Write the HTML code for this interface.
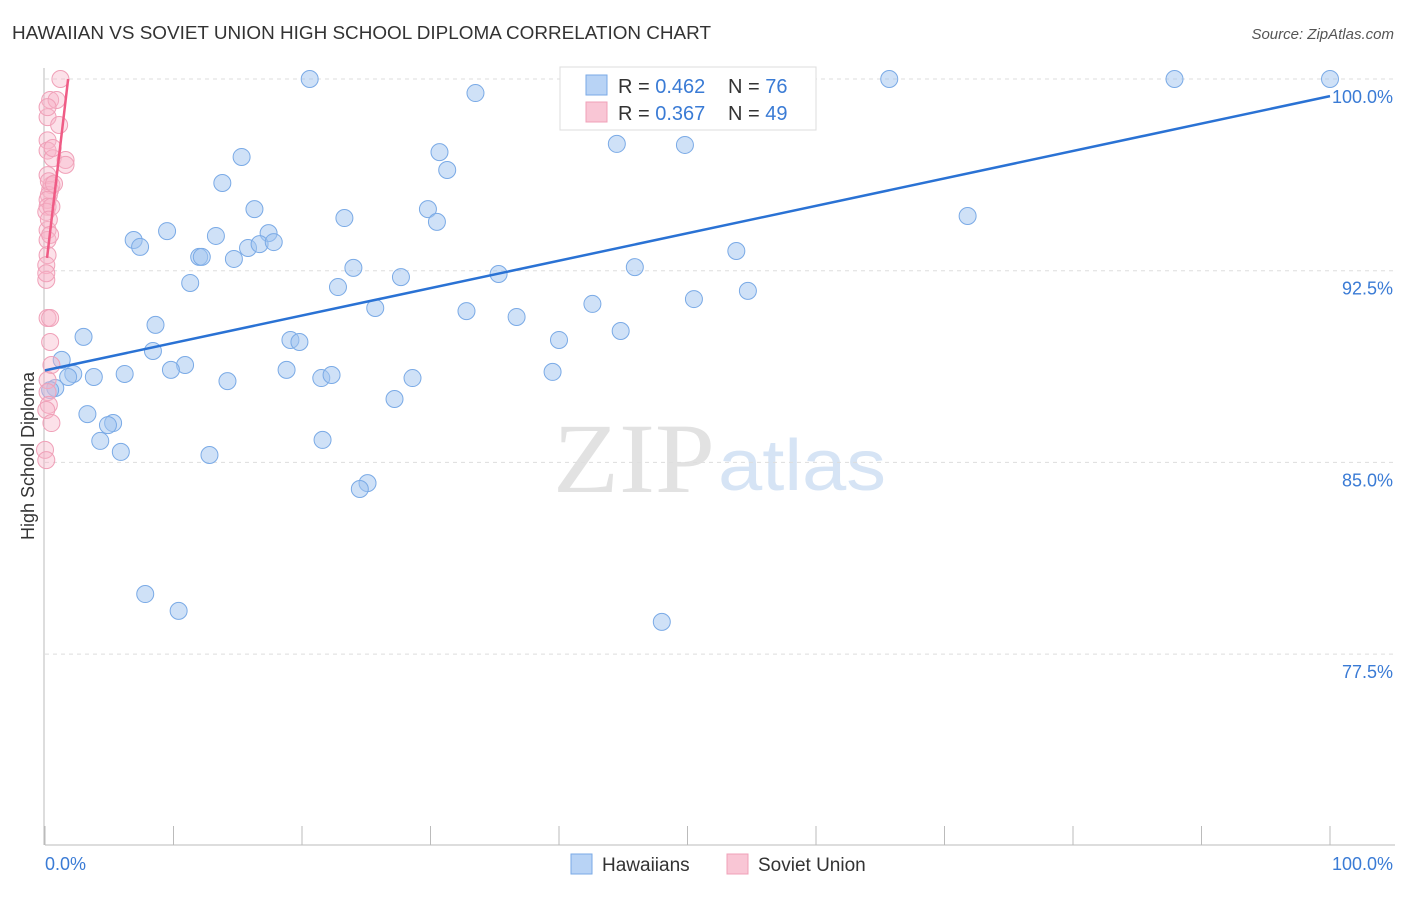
<!DOCTYPE html>
<html><head><meta charset="utf-8"><style>
body{margin:0;background:#fff;font-family:"Liberation Sans",sans-serif;}
svg text{font-family:"Liberation Sans",sans-serif;}
</style></head><body>
<svg id="chart" width="1406" height="892" xmlns="http://www.w3.org/2000/svg">
<text x="12" y="39" font-size="18" fill="#333" textLength="699" lengthAdjust="spacingAndGlyphs">HAWAIIAN VS SOVIET UNION HIGH SCHOOL DIPLOMA CORRELATION CHART</text>
<text x="1394" y="39" font-size="15" fill="#555" text-anchor="end" font-style="italic">Source: ZipAtlas.com</text>
<g>
<text x="553" y="492" font-size="100" fill="#e2e2e2" style="font-family:'Liberation Serif',serif" textLength="162" lengthAdjust="spacingAndGlyphs">ZIP</text>
<text x="718" y="490" font-size="72" fill="#d6e4f5" textLength="168" lengthAdjust="spacingAndGlyphs">atlas</text>
</g>
<g id="grid"></g>
<g id="axes"></g>
<g id="pts"></g>
<g id="lines"></g>
<text transform="translate(34,456) rotate(-90)" font-size="18" fill="#333" text-anchor="middle">High School Diploma</text>
<g>
<rect x="560" y="67" width="256" height="63" fill="#fff" stroke="#ddd"/>
<rect x="586" y="75" width="21" height="20" fill="#b8d3f5" stroke="#7aaae6"/>
<rect x="586" y="102" width="21" height="20" fill="#f9c6d5" stroke="#f0a0b8"/>
<text x="618" y="93" font-size="20" fill="#333">R = <tspan fill="#3a7bd5">0.462</tspan></text>
<text x="728" y="93" font-size="20" fill="#333">N = <tspan fill="#3a7bd5">76</tspan></text>
<text x="618" y="120" font-size="20" fill="#333">R = <tspan fill="#3a7bd5">0.367</tspan></text>
<text x="728" y="120" font-size="20" fill="#333">N = <tspan fill="#3a7bd5">49</tspan></text>
</g>
<g>
<rect x="571" y="854" width="21" height="20" fill="#b8d3f5" stroke="#7aaae6"/>
<text x="602" y="871" font-size="19" fill="#333">Hawaiians</text>
<rect x="727" y="854" width="21" height="20" fill="#f9c6d5" stroke="#f0a0b8"/>
<text x="758" y="871" font-size="19" fill="#333">Soviet Union</text>
</g>
</svg>
<script>
const yTicks=[100,92.5,85,77.5];
const yTickLabels=["100.0%","92.5%","85.0%","77.5%"];
const xLabels=["0.0%","100.0%"];
const blueX=[20.6,33.5,65.7,87.9,100,44.5,49.8,15.3,30.7,31.3,13.8,16.3,29.8,30.5,23.3,71.8,9.5,6.9,7.4,13.3,17.4,15.8,16.7,17.8,12.0,12.2,14.7,24.0,35.3,45.9,53.8,11.3,22.8,27.7,42.6,50.5,54.7,25.7,32.8,36.7,8.6,44.8,3.0,40.0,19.1,19.8,8.4,1.3,10.9,9.8,18.8,6.2,3.8,2.2,1.8,14.2,21.5,22.3,28.6,39.5,0.8,0.4,27.2,3.3,5.3,4.9,4.3,21.6,5.9,12.8,25.1,24.5,7.8,10.4,48.0,48.5];
const blueY=[100,99.45,100,100,100,97.46,97.42,96.95,97.14,96.44,95.93,94.91,94.91,94.41,94.56,94.64,94.05,93.7,93.43,93.86,93.97,93.39,93.54,93.62,93.04,93.04,92.96,92.61,92.37,92.64,93.27,92.02,91.86,92.25,91.2,91.39,91.71,91.04,90.92,90.69,90.38,90.14,89.91,89.79,89.79,89.71,89.36,89.01,88.81,88.62,88.62,88.46,88.34,88.46,88.34,88.18,88.3,88.42,88.3,88.54,87.91,87.83,87.48,86.89,86.54,86.46,85.84,85.88,85.41,85.29,84.19,83.96,79.85,79.19,78.76,99.9];
const pinkX=[1.2,0.4,0.9,0.2,1.1,0.2,0.2,0.6,1.6,1.6,0.2,0.5,0.4,0.3,0.2,0.2,0.1,0.2,0.2,0.2,0.1,0.1,0.2,0.4,0.4,0.5,0.2,0.2,0.3,0.1,0.5,0.0,0.1,0.3,0.5,0.3,0.6,0.2,0.7,0.4,0.1];
const pinkY=[100,99.18,99.18,98.51,98.2,97.6,97.2,96.9,96.83,96.64,96.24,95.85,95.66,95.46,95.27,95.0,94.8,94.09,93.7,93.11,92.72,92.14,90.65,90.65,89.71,88.81,88.22,87.75,87.25,87.05,86.54,85.49,85.09,96.0,95.0,94.5,97.3,98.9,95.9,93.9,92.4];
const blueTrend=[[0,88.6],[100,99.33]];
const pinkTrend=[[0.16,93.0],[1.8,100]];
const NS="http://www.w3.org/2000/svg";
const X=v=>45+v*12.85, Y=v=>79+(100-v)*25.56;
function mk(tag,attrs,parent){const e=document.createElementNS(NS,tag);for(const k in attrs)e.setAttribute(k,attrs[k]);document.getElementById(parent).appendChild(e);return e;}
yTicks.forEach((t,i)=>{
 const g=mk('line',{x1:45,x2:1395,y1:Y(t),y2:Y(t),stroke:'#ddd','stroke-dasharray':'4,4'},'grid');
 
 
 const l=mk('text',{x:1393,y:Y(t)+24,'font-size':18,fill:'#3a7bd5','text-anchor':'end'},'axes');
 l.textContent=yTickLabels[i];
 
 
});
const ax=mk('line',{x1:45,x2:1395,y1:845,y2:845,stroke:'#bbb'},'axes');


const ay=mk('line',{x1:44,x2:44,y1:68,y2:845,stroke:'#bbb'},'axes');


for(let i=0;i<=10;i++){const t=mk('line',{x1:X(i*10),x2:X(i*10),y1:826,y2:845,stroke:'#bbb'},'axes');
 
 }
[[0,'start',45],[100,'end',1393]].forEach((d,i)=>{const t=mk('text',{x:d[2],y:870,'font-size':18,fill:'#3a7bd5','text-anchor':d[1]},'axes');t.textContent=xLabels[i];
 
 });
blueX.forEach((x,i)=>{const c=mk('circle',{cx:X(x),cy:Y(blueY[i]),r:8.5,fill:'rgba(160,196,240,0.5)',stroke:'#7aaae6','stroke-width':1},'pts');
 
 });
pinkX.forEach((x,i)=>{const c=mk('circle',{cx:X(x),cy:Y(pinkY[i]),r:8.5,fill:'rgba(248,180,200,0.4)',stroke:'#f0a0b8','stroke-width':1},'pts');
 
 });
const bl=mk('line',{x1:X(blueTrend[0][0]),y1:Y(blueTrend[0][1]),x2:X(blueTrend[1][0]),y2:Y(blueTrend[1][1]),stroke:'#2a72d4','stroke-width':2.5},'lines');


const pl=mk('line',{x1:X(pinkTrend[0][0]),y1:Y(pinkTrend[0][1]),x2:X(pinkTrend[1][0]),y2:Y(pinkTrend[1][1]),stroke:'#ef5b85','stroke-width':2.5},'lines');


</script>
</body></html>
